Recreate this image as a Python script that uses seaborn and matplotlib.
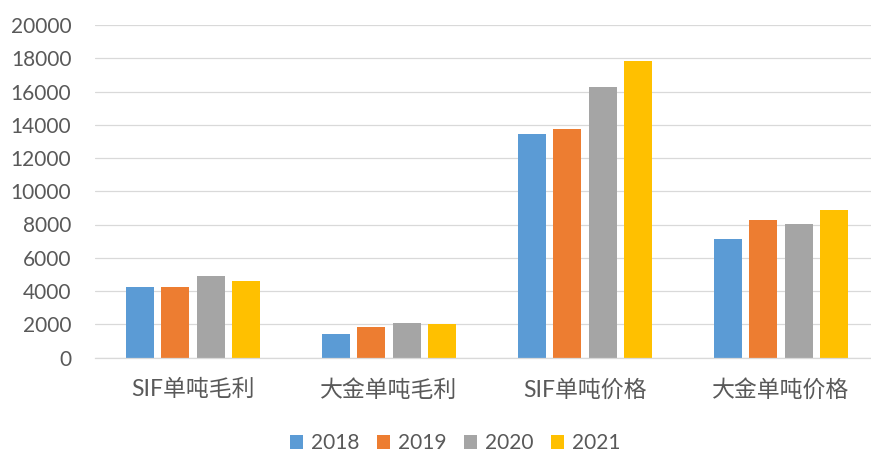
import matplotlib
matplotlib.use("Agg")
import matplotlib.pyplot as plt
import seaborn as sns
import pandas as pd
from matplotlib.patches import Patch
from matplotlib.ticker import FixedLocator

categories = ["SIF单吨毛利", "大金单吨毛利", "SIF单吨价格", "大金单吨价格"]
years = ["2018", "2019", "2020", "2021"]
v2018 = [4250, 1400, 13440, 7120]
v2019 = [4270, 1850, 13740, 8280]
v2020 = [4890, 2080, 16280, 8040]
v2021 = [4610, 2000, 17840, 8900]
colors = ["#5B9BD5", "#ED7D31", "#A5A5A5", "#FFC000"]
yticks = [0, 2000, 4000, 6000, 8000, 10000, 12000, 14000, 16000, 18000, 20000]

rows = []
for y, vals in zip(years, [v2018, v2019, v2020, v2021]):
    for c, v in zip(categories, vals):
        rows.append({"cat": c, "year": y, "value": v})
df = pd.DataFrame(rows)

sns.set_theme(style="white")
plt.rcParams["font.family"] = ["Lato", "Noto Sans CJK SC", "DejaVu Sans"]

W, H = 871, 453
fig = plt.figure(figsize=(W / 100, H / 100), dpi=100)
left, right, top, bottom = 95, 879, 25, 357.5
ax = fig.add_axes([left / W, (H - bottom) / H, (right - left) / W, (bottom - top) / H])

sns.barplot(data=df, x="cat", y="value", hue="year", order=categories,
            hue_order=years, palette=colors, width=0.725, gap=0.21,
            saturation=1, linewidth=0, ax=ax, legend=False)

ax.set_ylim(0, 20000)
ax.set_xlim(-0.5, 3.5)
ax.set_yticks(yticks)
ax.set_yticklabels([str(t) for t in yticks])
ax.yaxis.grid(True, color="#D9D9D9", linewidth=0.9)
ax.set_axisbelow(True)
for s in ["top", "right", "left"]:
    ax.spines[s].set_visible(False)
ax.spines["bottom"].set_color("#D9D9D9")
ax.spines["bottom"].set_linewidth(0.9)
ax.set_xlabel("")
ax.set_ylabel("")
ax.tick_params(axis="y", length=0, pad=17, labelsize=15, labelcolor="#595959")
ax.tick_params(axis="x", which="major", length=0, pad=15.5, labelsize=16.5, labelcolor="#595959")
ax.xaxis.set_minor_locator(FixedLocator([-0.5, 0.5, 1.5, 2.5, 3.5]))
ax.tick_params(axis="x", which="minor", length=5, width=0.9, color="#D9D9D9", direction="out")

handles = [Patch(facecolor=c, edgecolor="none", label=y) for c, y in zip(colors, years)]
fig.legend(handles=handles, loc="center", bbox_to_anchor=(455 / W, 1 - 443 / H),
           ncol=4, frameon=False, fontsize=15, handlelength=0.65, handleheight=0.65,
           handletextpad=0.35, columnspacing=0.85, labelcolor="#595959")

fig.savefig("out.png", dpi=100)
